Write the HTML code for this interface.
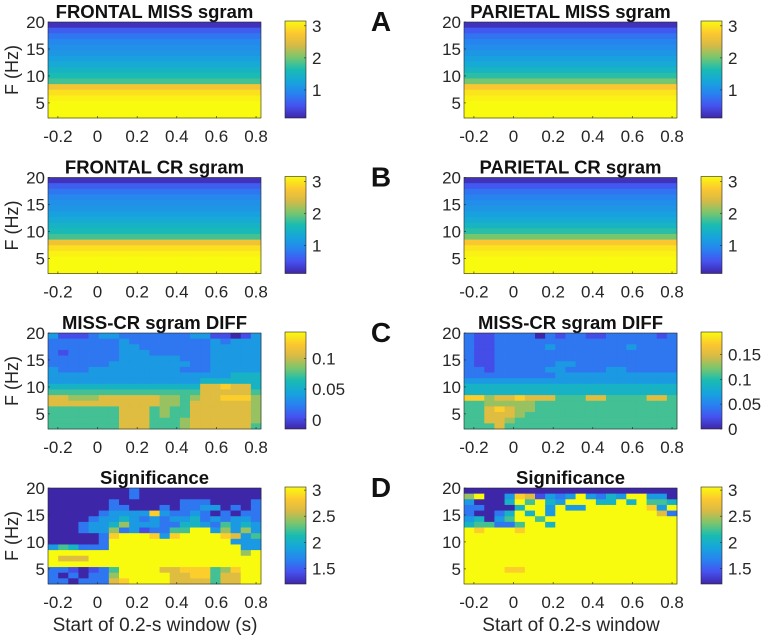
<!DOCTYPE html>
<html><head><meta charset="utf-8"><style>
html,body{margin:0;padding:0;background:#fff;}
svg{display:block;font-family:"Liberation Sans",Arial,sans-serif;}
</style></head><body>
<svg id="fig" width="766" height="638" viewBox="0 0 766 638"></svg>
<script>
// ---- data ----
const xTicks = [-0.2, 0, 0.2, 0.4, 0.6, 0.8];
const yTicks = [5, 10, 15, 20];
const titlesLeft = ["FRONTAL MISS sgram","FRONTAL CR sgram","MISS-CR sgram DIFF","Significance"];
const titlesRight = ["PARIETAL MISS sgram","PARIETAL CR sgram","MISS-CR sgram DIFF","Significance"];
const panelLetters = ["A","B","C","D"];
// 1-D frequency profiles (levels 0-9, top row = 20 Hz)
const profFrontalMiss = [0.3,1.4,2.0,2.4,2.7,2.9,3.2,3.6,4.0,4.5,5.0,7.6,8.4,8.8,9,9,9];
const profParietalMiss = [0.3,1.3,1.9,2.3,2.6,2.9,3.2,3.6,4.1,4.7,5.6,7.8,8.5,8.8,9,9,9];
const profFrontalCR = [0.3,1.4,2.0,2.4,2.7,2.9,3.2,3.6,4.0,4.4,5.0,7.5,8.4,8.8,9,9,9];
const profParietalCR = [0.3,1.3,1.9,2.3,2.6,2.9,3.2,3.6,4.1,4.7,5.6,7.8,8.5,8.8,9,9,9];
// 2-D grids (17 freq rows x 21 time cols, levels 0-9)
const diffFrontal = [
"311123322222223311013","222222232222222232333","222222233222222233333","212222233322222233333",
"222222233333322233333","222222333333332233333","322233333333322233333","333333333333333333444",
"333333333333333444444","444444444444444778774","555555555555555777775","776667777776656778886",
"777777777776657777776","555555577756557777776","555555577756557777776","555555577755567777776",
"555555577755567777775"];
const sigFrontal = [
"000000002000000000000","000000002000000000000","000000200000022200002","000000220002022330202",
"000002333383223202022","000023343232334232332","000233463332244325343","000233623122559936363",
"000002899983899998735","000002999999999999333","354222999999999999933","999999999999999999969",
"977799999999999999999","999999999999999999999","221012599997788856899","202022699999778857799",
"220222789999777757799"];
const diffParietal = [
"211222202122112222212","211222222222222222222","211222223222222232222","211222222222222222222",
"211222222222222222222","211222222332222222222","221222223322223322222","222222222333333333333",
"333333333333333333333","444444444444444444444","444444444444444444444","886778777555775555775",
"556666655555555555555","557876655555555555555","557776555555555555555","557765555555555555555",
"555755555555555555555"];
const sigParietal = [
"000000000000000000000","690038713239324399330","300049594399944949554","220004993933999999839",
"200249493999999999972","340359959999999999999","455225994999999999999","989998999999999999999",
"999999999999999999999","999999999999999999999","999999999999999999999","999999999999999999999",
"999999999999999999999","999999999999999999999","999988999999999999999","999999999999999999999",
"999999999999999999999"];
const cbTicksA = [1,2,3], cbRangeA = [0.125,3.15];
const cbTicksCL = [0,0.05,0.1], cbRangeCL = [-0.015,0.143];
const cbTicksCR = [0,0.05,0.1,0.15], cbRangeCR = [0,0.195];
const cbTicksD = [1.5,2,2.5,3], cbRangeD = [1.2,3.06];

// ---- helpers ----
const NS="http://www.w3.org/2000/svg";
const svg=document.getElementById('fig');
function mk(tag,attrs,parent){const e=document.createElementNS(NS,tag);for(const k in attrs)e.setAttribute(k,attrs[k]);(parent||svg).appendChild(e);return e;}
const stops=[[62,38,168],[70,82,240],[40,130,240],[22,165,220],[25,188,178],[120,198,110],[215,186,70],[252,200,48],[249,251,14]];
function parula(t){t=Math.max(0,Math.min(1,t));const p=t*8,i=Math.min(7,Math.floor(p)),f=p-i;const a=stops[i],b=stops[i+1];
 return `rgb(${Math.round(a[0]+(b[0]-a[0])*f)},${Math.round(a[1]+(b[1]-a[1])*f)},${Math.round(a[2]+(b[2]-a[2])*f)})`;}
const xDom=[-0.25,0.825], yDom=[2.2,20];
const rowsTop=[22,177.5,333,488];
const colsLeft=[48,464];
const PW=213, PH=96;
let gid=0;
function panel(px,py,title,rows,cbx,cbTicks,cbRange,is2D,showY){
 const g=mk('g',{});
 
 
 const sx=v=>px+(v-xDom[0])/(xDom[1]-xDom[0])*PW;
 const sy=v=>py+PH-(v-yDom[0])/(yDom[1]-yDom[0])*PH;
 const nr=rows.length, rh=PH/nr;
 if(is2D){
  const nc=rows[0].length, cw=PW/nc;
  rows.forEach((row,r)=>{for(let c=0;c<nc;c++){
   const cell=mk('rect',{x:px+c*cw,y:py+r*rh,width:cw+0.4,height:rh+0.4,fill:parula(+row[c]/9)},g);
   
   
  }});
 } else {
  rows.forEach((v,r)=>{
   const band=mk('rect',{x:px,y:py+r*rh,width:PW,height:rh+0.4,fill:parula(v/9)},g);
   
   
  });
 }
 mk('rect',{x:px,y:py,width:PW,height:PH,fill:'none',stroke:'#262626','stroke-width':0.6},g);
 xTicks.forEach(t=>{const x=sx(t);mk('line',{x1:x,x2:x,y1:py+PH,y2:py+PH-2,stroke:'#262626','stroke-width':0.6},g);
  const tl=mk('text',{x:x,y:py+PH+24,'text-anchor':'middle','font-size':17,fill:'#262626'},g);tl.textContent=t;
  });
 yTicks.forEach(t=>{const y=sy(t);mk('line',{x1:px,x2:px+2,y1:y,y2:y,stroke:'#262626','stroke-width':0.6},g);
  const tl=mk('text',{x:px-3,y:y+6,'text-anchor':'end','font-size':17,fill:'#262626'},g);tl.textContent=t;
  });
 const tt=mk('text',{x:px+PW/2,y:py-4,'text-anchor':'middle','font-size':18.5,'font-weight':'bold',fill:'#111'},g);tt.textContent=title;
 
 if(showY){const yt=mk('text',{x:0,y:0,transform:`translate(18,${py+PH/2}) rotate(-90)`,'text-anchor':'middle','font-size':18,fill:'#262626'},g);yt.textContent='F (Hz)';
  }
 const id='cb'+(gid++);
 const lg=mk('linearGradient',{id:id,x1:0,y1:1,x2:0,y2:0},mk('defs',{},g));
 for(let i=0;i<=8;i++)mk('stop',{offset:i/8,'stop-color':parula(i/8)},lg);
 const cb=mk('rect',{x:cbx,y:py-1,width:21,height:PH+1,fill:`url(#${id})`,stroke:'#262626','stroke-width':0.6},g);
 
 const cy=v=>py+PH-(v-cbRange[0])/(cbRange[1]-cbRange[0])*(PH+1);
 cbTicks.forEach(t=>{const y=cy(t);mk('line',{x1:cbx+19,x2:cbx+21,y1:y,y2:y,stroke:'#262626','stroke-width':0.6},g);
  const tl=mk('text',{x:cbx+27,y:y+6,'font-size':17,fill:'#262626'},g);tl.textContent=t;
  });
}
const leftData=[profFrontalMiss,profFrontalCR,diffFrontal,sigFrontal];
const rightData=[profParietalMiss,profParietalCR,diffParietal,sigParietal];
const cbL=[[cbTicksA,cbRangeA],[cbTicksA,cbRangeA],[cbTicksCL,cbRangeCL],[cbTicksD,cbRangeD]];
const cbR=[[cbTicksA,cbRangeA],[cbTicksA,cbRangeA],[cbTicksCR,cbRangeCR],[cbTicksD,cbRangeD]];
for(let i=0;i<4;i++){
 panel(colsLeft[0],rowsTop[i],titlesLeft[i],leftData[i],285,cbL[i][0],cbL[i][1],i>=2,true);
 panel(colsLeft[1],rowsTop[i],titlesRight[i],rightData[i],701,cbR[i][0],cbR[i][1],i>=2,false);
 const L=mk('text',{x:381,y:rowsTop[i]+9,'text-anchor':'middle','font-size':28,'font-weight':'bold',fill:'#111'});
 L.textContent=panelLetters[i];
 
 
}
const xa=mk('text',{x:155,y:631,'text-anchor':'middle','font-size':19,fill:'#262626'});xa.textContent='Start of 0.2-s window (s)';


const xb=mk('text',{x:571,y:631,'text-anchor':'middle','font-size':19,fill:'#262626'});xb.textContent='Start of 0.2-s window';


</script>
</body></html>
